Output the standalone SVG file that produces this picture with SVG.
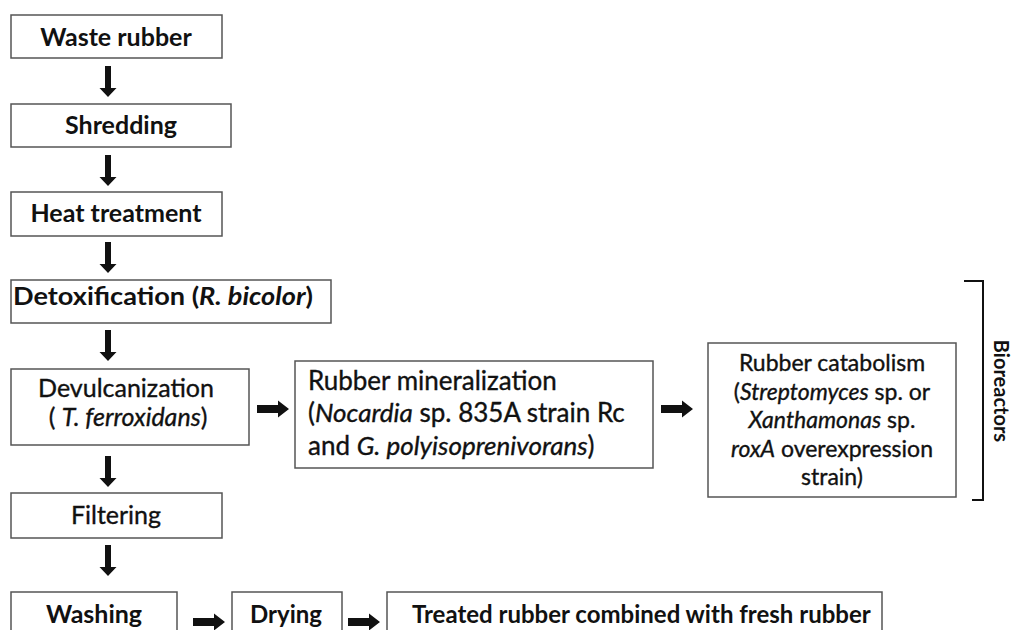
<svg xmlns="http://www.w3.org/2000/svg" width="1015" height="630" viewBox="0 0 1015 630">
<style>
.box{fill:#fff;stroke:#555;stroke-width:1.5}
.t{font-family:Lato,"Open Sans","Liberation Sans",sans-serif;fill:#111}
.b{font-weight:bold}
.n{font-weight:normal;stroke:#111;stroke-width:0.35}
.i{font-style:italic}
.arr{fill:#111}
.br{fill:none;stroke:#111;stroke-width:2}
</style>
<defs>
<path id="av" d="M-3,0 H3 V22 H8.5 L0,31 L-8.5,22 H-3 Z"/>
<path id="ah" d="M0,-4 H21 V-8.5 L32,0 L21,8.5 V4 H0 Z"/>
</defs>
<rect width="1015" height="630" fill="#fff"/>
<g id="waste">
<rect class="box" x="11" y="15" width="211" height="43"/>
<text class="t b" x="116" y="46" font-size="25" text-anchor="middle">Waste rubber</text>
</g>
<g id="shredding">
<rect class="box" x="11" y="104" width="220" height="43"/>
<text class="t b" x="121" y="134" font-size="25" text-anchor="middle">Shredding</text>
</g>
<g id="heat">
<rect class="box" x="11" y="192" width="211" height="44"/>
<text class="t b" x="116" y="222" font-size="25" text-anchor="middle">Heat treatment</text>
</g>
<g id="detox">
<rect class="box" x="11" y="280" width="320" height="43"/>
<text class="t b" x="13" y="305" font-size="25" textLength="300" lengthAdjust="spacingAndGlyphs">Detoxification (<tspan class="i">R. bicolor</tspan>)</text>
</g>
<g id="devulc">
<rect class="box" x="11" y="369" width="238" height="76"/>
<text class="t n" x="126" y="397" font-size="25" text-anchor="middle">Devulcanization</text>
<text class="t n" x="128" y="426" font-size="25" text-anchor="middle">( <tspan class="i">T. ferroxidans</tspan>)</text>
</g>
<g id="mineral">
<rect class="box" x="295" y="361" width="358" height="107"/>
<text class="t n" x="308" y="390" font-size="26">Rubber mineralization</text>
<text class="t n" x="308" y="422" font-size="26">(<tspan class="i">Nocardia</tspan> sp. 835A strain Rc</text>
<text class="t n" x="308" y="455" font-size="26">and <tspan class="i">G. polyisoprenivorans</tspan>)</text>
</g>
<g id="catabolism">
<rect class="box" x="708" y="343" width="248" height="154"/>
<text class="t n" x="832" y="371" font-size="23" text-anchor="middle">Rubber catabolism</text>
<text class="t n" x="832" y="400" font-size="23" text-anchor="middle">(<tspan class="i">Streptomyces</tspan> sp. or</text>
<text class="t n" x="832" y="428" font-size="23" text-anchor="middle"><tspan class="i">Xanthamonas</tspan> sp.</text>
<text class="t n" x="832" y="457" font-size="23" text-anchor="middle"><tspan class="i">roxA</tspan> overexpression</text>
<text class="t n" x="832" y="485" font-size="23" text-anchor="middle">strain)</text>
</g>
<g id="filtering">
<rect class="box" x="11" y="493" width="211" height="45"/>
<text class="t n" x="116" y="524" font-size="25" text-anchor="middle">Filtering</text>
</g>
<g id="washing">
<rect class="box" x="11" y="592" width="166" height="50"/>
<text class="t b" x="94" y="623" font-size="25" text-anchor="middle">Washing</text>
</g>
<g id="drying">
<rect class="box" x="232" y="592" width="110" height="50"/>
<text class="t b" x="286" y="623" font-size="24" text-anchor="middle">Drying</text>
</g>
<g id="treated">
<rect class="box" x="387" y="592" width="495" height="50"/>
<text class="t b" x="412" y="623" font-size="24">Treated rubber combined with fresh rubber</text>
</g>
<g id="bioreactors">
<path class="br" d="M964,281 H983 V500 H972"/>
<text class="t b" transform="translate(994,391) rotate(90)" font-size="20" text-anchor="middle">Bioreactors</text>
</g>
<g id="connectors" class="arr">
<use href="#av" x="108" y="66"/>
<use href="#av" x="108" y="155"/>
<use href="#av" x="108" y="242"/>
<use href="#av" x="108" y="330"/>
<use href="#av" x="108" y="456"/>
<use href="#av" x="108" y="545"/>
<use href="#ah" x="257" y="409"/>
<use href="#ah" x="661" y="409"/>
<use href="#ah" x="193" y="622"/>
<use href="#ah" x="348" y="622"/>
</g>
</svg>
